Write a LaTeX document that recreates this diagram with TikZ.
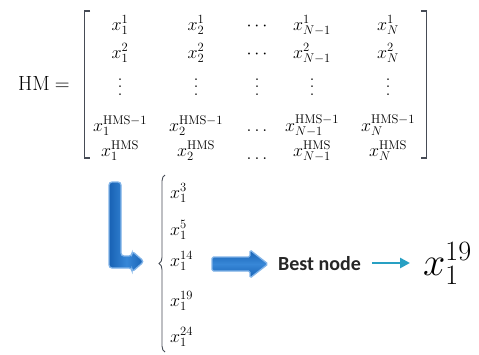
\RequirePackage{fix-cm}
\documentclass[tikz,border=0pt]{standalone}
\usepackage{fontspec}
\newfontfamily\bestfont{Carlito}
\usetikzlibrary{decorations.pathreplacing,arrows.meta}
\definecolor{arrblue}{RGB}{24,98,180}
\definecolor{arrmid}{RGB}{55,135,215}
\definecolor{arrlight}{RGB}{130,180,232}
\definecolor{tealarr}{RGB}{40,160,195}
\definecolor{bracegray}{RGB}{70,75,85}
\newcommand\tallvdots{$\vcenter{\hbox{\fontsize{20}{8}\selectfont\vbox{\baselineskip7.5pt\lineskiplimit0pt\hbox{.}\hbox{.}\hbox{.}}}}$}
\begin{document}
\begin{tikzpicture}[x=1pt,y=-1pt,
  ent/.style={anchor=base, inner sep=0pt, font=\fontsize{18}{21}\selectfont},
  vd/.style={anchor=center, inner sep=0pt, font=\fontsize{18}{21}\selectfont},
  bigarrow/.style={draw=arrlight, line width=1.3pt, rounded corners=1.5pt,
    top color=arrblue, bottom color=arrblue, middle color=arrmid}]
\useasboundingbox (0,0) rectangle (479,354);

% HM =
\node[anchor=base west, inner sep=0pt, font=\fontsize{20.5}{24}\selectfont] (hm) at (18,90) {HM\hspace{5pt}$=$};

% matrix entries
\foreach \c/\x/\s in {1/120/1, 2/196/2, 4/312/{N-1}, 5/388/N} {
  \node[ent] (m1\c) at (\x,30)  {$x_{\s}^{1}$};
  \node[ent] (m2\c) at (\x,58)  {$x_{\s}^{2}$};
  \node[vd]  (m3\c) at (\x,87)  {\tallvdots};
  \node[ent] (m4\c) at (\x,131) {$x_{\s}^{\mathrm{HMS}-1}$};
  \node[ent] (m5\c) at (\x,156) {$x_{\s}^{\mathrm{HMS}}$};
}
\node[ent] (m13) at (257,30)  {$\cdots$};
\node[ent] (m23) at (257,58)  {$\cdots$};
\node[vd]  (m33) at (257,87)  {\tallvdots};
\node[ent] (m43) at (257,131) {$\ldots$};
\node[ent] (m53) at (257,159) {$\ldots$};

% brackets
\draw[line width=1.3pt, bracegray] (90,11) -- (84.5,11) -- (84.5,158) -- (90,158);
\draw[line width=1.3pt, bracegray] (421,11) -- (426.5,11) -- (426.5,158) -- (421,158);

% L-shaped arrow
\path[bigarrow, rounded corners=3pt, left color=arrblue, right color=arrblue, middle color=arrmid]
  (109,182) -- (121,182) -- (121,256) -- (132,256) -- (132,251)
  -- (144,261.5) -- (132,272) -- (132,268) -- (109,268) -- cycle;

% brace and selected entries
\draw[decorate, decoration={brace, amplitude=6pt}, line width=0.9pt, bracegray]
  (165,352) -- (165,175);
\node[ent, anchor=base west] (s1) at (170,198) {$x_1^{3}$};
\node[ent, anchor=base west] (s2) at (170,235) {$x_1^{5}$};
\node[ent, anchor=base west] (s3) at (170,266) {$x_1^{14}$};
\node[ent, anchor=base west] (s4) at (170,306) {$x_1^{19}$};
\node[ent, anchor=base west] (s5) at (170,342) {$x_1^{24}$};

% big arrow
\path[bigarrow] (212,257) -- (250,257) -- (250,250) -- (268,264) -- (250,278)
  -- (250,271) -- (212,271) -- cycle;

% best node
\node[anchor=base west, inner sep=0pt, text=black!85,
  font=\bestfont\bfseries\fontsize{20}{24}\selectfont] (best) at (278,270) {Best node};

% result
\node[anchor=base west, inner sep=0pt, font=\fontsize{40}{44}\selectfont] (res) at (423,275) {$x_1^{19}$};

% teal arrow
\draw[tealarr, line width=2.6pt, -{Triangle[length=10pt,width=10pt]}]
  ([xshift=11pt,yshift=7pt]best.base east) -- ([xshift=-13pt,yshift=7pt]best.base east -| res.west);
\end{tikzpicture}
\end{document}
